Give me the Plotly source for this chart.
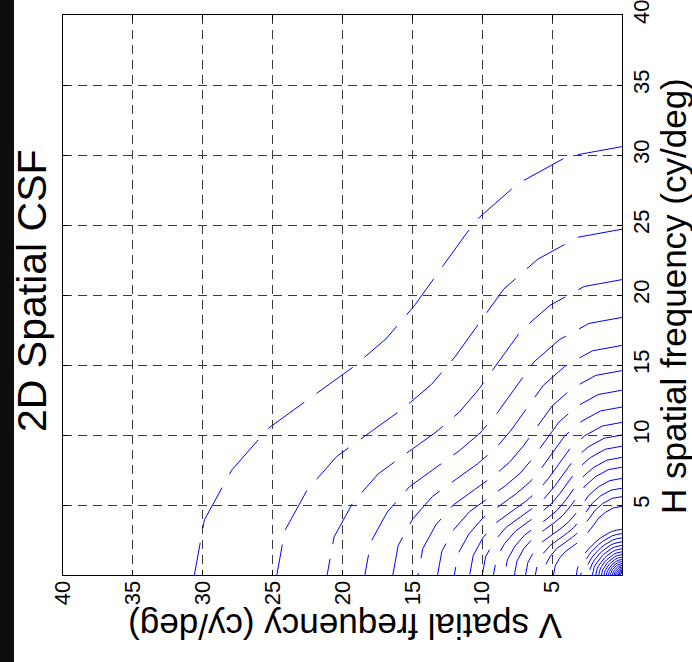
import numpy as np
import plotly.graph_objects as go

# Iso-sensitivity contours: radius (cy/deg) at which each contour meets the H and V axes
falloff_radii = [30.6, 24.7, 21.1, 18.4, 16.4, 14.6, 13.2, 12.0, 10.9, 10.0,
                 9.2, 8.4, 7.7, 6.9, 6.2, 5.6, 4.9]
rise_radii = [3.26, 2.95, 2.65, 2.38, 2.12, 1.88, 1.66, 1.46, 1.28, 1.11,
              0.96, 0.82, 0.69, 0.57, 0.46, 0.36, 0.27, 0.19, 0.12]

# Orientation (deg away from the H axis) and relative reach of a contour (oblique effect)
orient_deg = [0, 7.5, 15, 22.5, 30, 37.5, 45, 52.5, 60, 67.5, 75, 82.5, 90]
falloff_gain = [1.0, 0.985, 0.945, 0.895, 0.835, 0.795, 0.78, 0.795, 0.835, 0.895, 0.945, 0.985, 1.0]
rise_gain = [1.0, 0.99, 0.975, 0.955, 0.94, 0.93, 0.93, 0.93, 0.94, 0.955, 0.975, 0.99, 1.0]

tick_vals = [5, 10, 15, 20, 25, 30, 35, 40]

W, H = 692, 662
ML, MR, MT, MB = 63, 70, 15, 87
PW, PH = W - ML - MR, H - MT - MB

BLUE = "#0000ff"
CONTOUR_DASH = "45px,15px"

fig = go.Figure()

theta = np.radians(orient_deg)


def add_contour(r, gain):
    g = np.asarray(gain)
    v = r * g * np.sin(theta)   # V spatial frequency
    h = r * g * np.cos(theta)   # H spatial frequency
    fig.add_trace(go.Scatter(
        x=v, y=h, mode="lines",
        line=dict(color=BLUE, width=1, dash=CONTOUR_DASH),
        hoverinfo="skip", showlegend=False,
    ))


for r in falloff_radii:
    add_contour(r, falloff_gain)
for r in rise_radii:
    add_contour(r, rise_gain)

axis_common = dict(
    tickvals=tick_vals,
    ticktext=[str(t) for t in tick_vals],
    tickangle=-90,
    ticks="inside", ticklen=5, tickwidth=1, tickcolor="black",
    showline=True, linecolor="black", linewidth=1, mirror="ticks",
    showgrid=True, gridcolor="#3a3a3a", gridwidth=1, griddash="9px,6px",
    zeroline=False,
    tickfont=dict(size=22, color="black"),
    ticklabeloverflow="allow",
    fixedrange=True,
)

fig.update_layout(
    width=W, height=H,
    margin=dict(l=ML, r=MR, t=MT, b=MB, autoexpand=False),
    paper_bgcolor="white", plot_bgcolor="white",
    font=dict(family="Liberation Sans, Arial, Helvetica, sans-serif", color="black"),
    showlegend=False,
    xaxis=dict(range=[40, 0], ticklabelstandoff=-4, **axis_common),
    yaxis=dict(range=[0, 40], side="right", **axis_common),
)


def px_x(px):
    return (px - ML) / PW


def px_y(py):
    return (H - MB - py) / PH


fig.add_annotation(
    text="2D Spatial CSF", xref="paper", yref="paper",
    x=px_x(32), y=px_y(291), textangle=-90,
    xanchor="center", yanchor="middle", showarrow=False,
    font=dict(size=41, color="black"),
)
fig.add_annotation(
    text="H spatial frequency (cy/deg)", xref="paper", yref="paper",
    x=px_x(673), y=px_y(296), textangle=-90,
    xanchor="center", yanchor="middle", showarrow=False,
    font=dict(size=35, color="black"),
)
fig.add_annotation(
    text="V spatial frequency (cy/deg)", xref="paper", yref="paper",
    x=px_x(345), y=px_y(627), textangle=180,
    xanchor="center", yanchor="middle", showarrow=False,
    font=dict(size=35, color="black"),
)

# dark border strip along the left edge of the figure
fig.add_shape(
    type="rect", xref="paper", yref="paper",
    x0=px_x(0), x1=px_x(14), y0=px_y(H), y1=px_y(0),
    fillcolor="#0e0e0e", line=dict(width=0), layer="above",
)

fig.write_html("out.html")
